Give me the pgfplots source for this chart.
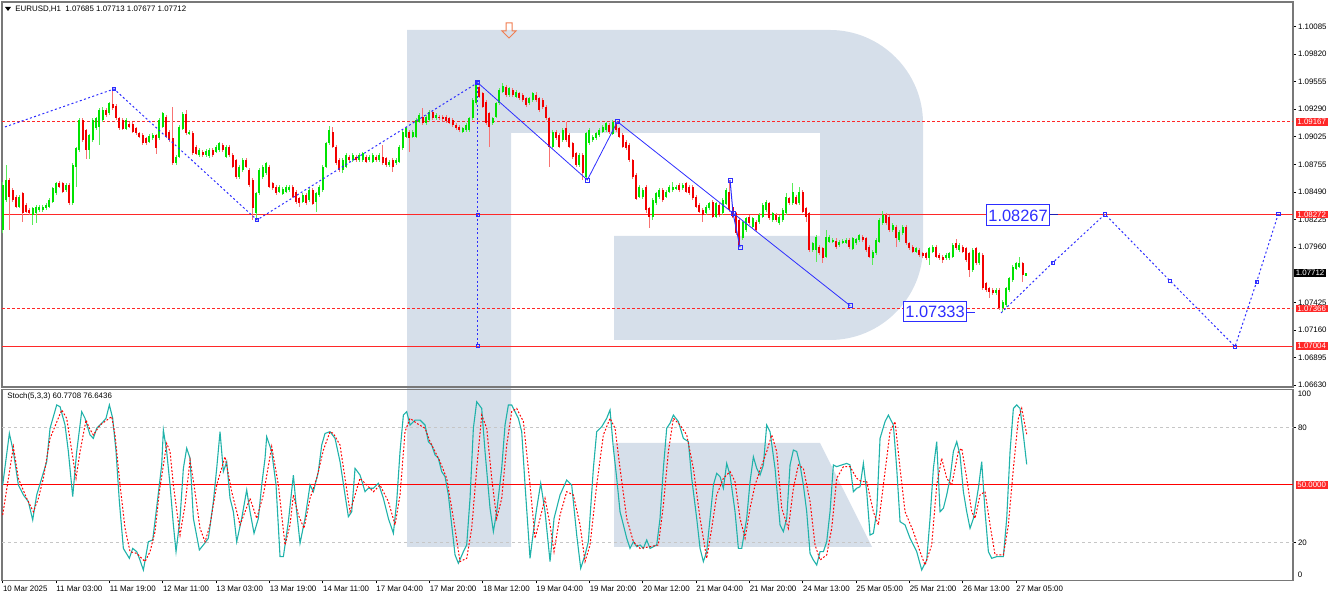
\documentclass[border=0pt]{standalone}
\usepackage{fontspec}
\setmainfont{Liberation Sans}
\usepackage{pgfplots}
\usepackage{pgfplotstable}
\pgfplotsset{compat=1.18}
\definecolor{upc}{RGB}{0,226,0}
\definecolor{dnc}{RGB}{242,0,0}
\definecolor{wm}{RGB}{214,223,234}
\definecolor{kline}{RGB}{32,178,170}
\definecolor{wave}{RGB}{45,45,255}
\definecolor{axgray}{RGB}{120,120,120}
\definecolor{lvl}{RGB}{255,40,40}
\newcommand{\sm}{\fontsize{3.95}{4.7}\selectfont}
\newcommand{\bg}{\fontsize{8.2}{9}\selectfont}

\pgfplotstableread{
o h l c
1.08124 1.08590 1.08092 1.08558
1.08413 1.08751 1.08397 1.08606
1.08606 1.08622 1.08124 1.08446
1.08510 1.08526 1.08397 1.08413
1.08446 1.08462 1.08333 1.08349
1.08349 1.08462 1.08333 1.08446
1.08478 1.08494 1.08204 1.08285
1.08365 1.08381 1.08285 1.08301
1.08317 1.08333 1.08269 1.08285
1.08269 1.08349 1.08172 1.08333
1.08285 1.08365 1.08188 1.08349
1.08317 1.08365 1.08301 1.08349
1.08317 1.08365 1.08301 1.08349
1.08333 1.08381 1.08317 1.08365
1.08349 1.08429 1.08333 1.08413
1.08397 1.08542 1.08381 1.08526
1.08478 1.08590 1.08462 1.08574
1.08581 1.08597 1.08526 1.08542
1.08574 1.08590 1.08478 1.08494
1.08510 1.08574 1.08494 1.08558
1.08558 1.08574 1.08365 1.08381
1.08381 1.08767 1.08365 1.08751
1.08735 1.08928 1.08542 1.08912
1.08896 1.09201 1.08879 1.09185
1.09185 1.09201 1.08976 1.08992
1.09088 1.09104 1.08815 1.08896
1.08896 1.09056 1.08815 1.09040
1.08992 1.09201 1.08976 1.09185
1.09104 1.09217 1.09088 1.09201
1.09121 1.09297 1.08944 1.09281
1.09185 1.09313 1.09169 1.09281
1.09281 1.09297 1.09217 1.09233
1.09249 1.09362 1.09233 1.09346
1.09339 1.09481 1.09281 1.09297
1.09320 1.09336 1.09185 1.09201
1.09201 1.09217 1.09088 1.09104
1.09185 1.09201 1.09088 1.09104
1.09104 1.09201 1.09088 1.09185
1.09146 1.09162 1.09104 1.09121
1.09146 1.09162 1.09056 1.09072
1.09104 1.09121 1.09040 1.09056
1.09056 1.09072 1.09008 1.09024
1.09040 1.09056 1.08944 1.08960
1.09008 1.09024 1.08944 1.08960
1.08976 1.09047 1.08960 1.09031
1.09008 1.09056 1.08992 1.09040
1.09040 1.09056 1.08863 1.08912
1.09008 1.09201 1.08992 1.09185
1.09121 1.09265 1.09104 1.09249
1.09217 1.09233 1.09008 1.09024
1.09072 1.09088 1.08976 1.08992
1.09008 1.09313 1.08751 1.08767
1.08767 1.08847 1.08751 1.08831
1.08831 1.09137 1.08815 1.09121
1.09104 1.09259 1.09088 1.09243
1.09243 1.09281 1.09040 1.09056
1.09056 1.09088 1.09040 1.09072
1.09063 1.09079 1.08847 1.08863
1.08928 1.08944 1.08847 1.08863
1.08847 1.08912 1.08831 1.08896
1.08879 1.08896 1.08831 1.08847
1.08847 1.08905 1.08831 1.08889
1.08838 1.08912 1.08822 1.08896
1.08896 1.08912 1.08831 1.08847
1.08879 1.08944 1.08863 1.08928
1.08896 1.08976 1.08879 1.08960
1.08944 1.08960 1.08879 1.08896
1.08831 1.08944 1.08815 1.08928
1.08928 1.08944 1.08831 1.08847
1.08847 1.08863 1.08719 1.08735
1.08799 1.08815 1.08622 1.08638
1.08638 1.08751 1.08622 1.08735
1.08703 1.08815 1.08687 1.08799
1.08799 1.08815 1.08719 1.08735
1.08703 1.08719 1.08542 1.08558
1.08606 1.08622 1.08221 1.08333
1.08285 1.08494 1.08221 1.08478
1.08478 1.08719 1.08462 1.08703
1.08638 1.08751 1.08622 1.08735
1.08671 1.08783 1.08654 1.08767
1.08735 1.08751 1.08526 1.08542
1.08574 1.08590 1.08510 1.08526
1.08542 1.08558 1.08462 1.08478
1.08494 1.08558 1.08478 1.08542
1.08478 1.08542 1.08462 1.08526
1.08494 1.08558 1.08478 1.08542
1.08510 1.08558 1.08494 1.08542
1.08542 1.08558 1.08429 1.08446
1.08494 1.08510 1.08381 1.08397
1.08429 1.08446 1.08349 1.08381
1.08397 1.08478 1.08381 1.08462
1.08462 1.08478 1.08365 1.08381
1.08413 1.08526 1.08397 1.08510
1.08510 1.08526 1.08365 1.08381
1.08397 1.08494 1.08301 1.08478
1.08462 1.08558 1.08446 1.08542
1.08510 1.08751 1.08494 1.08735
1.08735 1.08976 1.08719 1.08960
1.08960 1.09127 1.08944 1.09088
1.09072 1.09121 1.08912 1.08928
1.08928 1.08944 1.08751 1.08767
1.08799 1.08815 1.08687 1.08703
1.08703 1.08815 1.08671 1.08799
1.08735 1.08863 1.08719 1.08847
1.08831 1.08847 1.08783 1.08799
1.08799 1.08863 1.08783 1.08847
1.08831 1.08847 1.08783 1.08799
1.08799 1.08863 1.08783 1.08847
1.08799 1.08879 1.08783 1.08863
1.08831 1.08847 1.08767 1.08783
1.08799 1.08847 1.08783 1.08831
1.08783 1.08863 1.08767 1.08847
1.08831 1.08847 1.08783 1.08799
1.08799 1.08863 1.08783 1.08847
1.08831 1.08944 1.08751 1.08767
1.08815 1.08831 1.08735 1.08751
1.08751 1.08799 1.08735 1.08783
1.08799 1.08815 1.08687 1.08735
1.08767 1.08815 1.08751 1.08799
1.08783 1.08944 1.08767 1.08928
1.08912 1.09088 1.08896 1.09072
1.09024 1.09121 1.09008 1.09104
1.09072 1.09088 1.08879 1.09008
1.09024 1.09088 1.09008 1.09072
1.09024 1.09201 1.09008 1.09185
1.09169 1.09249 1.09153 1.09233
1.09217 1.09297 1.09137 1.09153
1.09153 1.09233 1.09137 1.09217
1.09185 1.09281 1.09169 1.09265
1.09265 1.09281 1.09185 1.09201
1.09201 1.09249 1.09185 1.09233
1.09217 1.09233 1.09185 1.09201
1.09217 1.09233 1.09175 1.09191
1.09217 1.09233 1.09162 1.09178
1.09201 1.09217 1.09143 1.09159
1.09185 1.09201 1.09121 1.09137
1.09137 1.09153 1.09088 1.09104
1.09121 1.09137 1.09072 1.09088
1.09072 1.09121 1.09056 1.09104
1.09088 1.09153 1.09072 1.09137
1.09088 1.09217 1.09072 1.09201
1.09201 1.09394 1.09185 1.09378
1.09346 1.09554 1.09329 1.09522
1.09506 1.09522 1.09394 1.09410
1.09442 1.09458 1.09297 1.09313
1.09362 1.09378 1.09137 1.09153
1.09249 1.09265 1.08928 1.09121
1.09153 1.09217 1.09137 1.09201
1.09217 1.09362 1.09201 1.09346
1.09346 1.09490 1.09329 1.09474
1.09458 1.09538 1.09442 1.09512
1.09506 1.09522 1.09410 1.09426
1.09426 1.09506 1.09410 1.09490
1.09474 1.09490 1.09410 1.09426
1.09410 1.09474 1.09394 1.09458
1.09442 1.09458 1.09378 1.09394
1.09426 1.09442 1.09362 1.09378
1.09394 1.09410 1.09313 1.09329
1.09346 1.09410 1.09329 1.09394
1.09378 1.09458 1.09362 1.09442
1.09426 1.09458 1.09362 1.09378
1.09394 1.09410 1.09265 1.09281
1.09378 1.09394 1.09297 1.09313
1.09313 1.09329 1.09185 1.09201
1.09201 1.09217 1.08735 1.08928
1.08928 1.09088 1.08912 1.09072
1.09072 1.09088 1.08992 1.09008
1.09040 1.09056 1.08912 1.08928
1.08992 1.09104 1.08976 1.09088
1.09104 1.09169 1.08976 1.08992
1.09040 1.09056 1.08912 1.08928
1.08960 1.08976 1.08815 1.08831
1.08863 1.08879 1.08735 1.08751
1.08751 1.08863 1.08735 1.08847
1.08847 1.08863 1.08606 1.08671
1.08638 1.09072 1.08622 1.09056
1.08960 1.09104 1.08944 1.09088
1.08992 1.09040 1.08976 1.09024
1.09008 1.09072 1.08992 1.09056
1.09040 1.09104 1.09024 1.09088
1.09072 1.09137 1.09056 1.09121
1.09088 1.09169 1.09072 1.09153
1.09137 1.09153 1.09056 1.09072
1.09056 1.09185 1.09040 1.09169
1.09153 1.09169 1.09072 1.09088
1.09104 1.09121 1.09008 1.09024
1.09040 1.09056 1.08912 1.08928
1.08976 1.08992 1.08896 1.08912
1.08944 1.08960 1.08783 1.08799
1.08799 1.08815 1.08622 1.08638
1.08654 1.08671 1.08413 1.08429
1.08446 1.08558 1.08429 1.08542
1.08446 1.08526 1.08429 1.08510
1.08542 1.08558 1.08285 1.08317
1.08333 1.08349 1.08140 1.08253
1.08253 1.08429 1.08221 1.08413
1.08381 1.08494 1.08365 1.08478
1.08446 1.08526 1.08429 1.08510
1.08510 1.08526 1.08397 1.08413
1.08446 1.08510 1.08429 1.08494
1.08494 1.08558 1.08478 1.08542
1.08510 1.08590 1.08494 1.08542
1.08526 1.08558 1.08510 1.08542
1.08558 1.08574 1.08494 1.08510
1.08526 1.08574 1.08510 1.08558
1.08574 1.08590 1.08478 1.08494
1.08542 1.08558 1.08462 1.08478
1.08542 1.08558 1.08413 1.08429
1.08446 1.08462 1.08333 1.08349
1.08365 1.08381 1.08285 1.08301
1.08317 1.08333 1.08204 1.08269
1.08285 1.08365 1.08269 1.08349
1.08333 1.08397 1.08317 1.08381
1.08397 1.08413 1.08237 1.08253
1.08253 1.08397 1.08237 1.08381
1.08365 1.08381 1.08253 1.08269
1.08285 1.08429 1.08269 1.08413
1.08381 1.08526 1.08365 1.08510
1.08494 1.08606 1.08301 1.08317
1.08349 1.08365 1.08237 1.08253
1.08285 1.08301 1.08076 1.08092
1.08221 1.08237 1.07957 1.07979
1.08044 1.08221 1.08028 1.08204
1.08124 1.08253 1.08108 1.08237
1.08253 1.08269 1.08172 1.08188
1.08156 1.08253 1.08140 1.08237
1.08204 1.08221 1.08108 1.08124
1.08204 1.08285 1.08188 1.08269
1.08253 1.08381 1.08237 1.08365
1.08317 1.08413 1.08301 1.08397
1.08381 1.08397 1.08221 1.08237
1.08221 1.08301 1.08204 1.08285
1.08269 1.08285 1.08204 1.08221
1.08188 1.08269 1.08172 1.08253
1.08221 1.08333 1.08204 1.08317
1.08285 1.08478 1.08269 1.08446
1.08429 1.08446 1.08365 1.08381
1.08381 1.08581 1.08365 1.08494
1.08446 1.08462 1.08365 1.08381
1.08381 1.08542 1.08365 1.08494
1.08494 1.08510 1.08285 1.08301
1.08333 1.08349 1.08204 1.08253
1.08285 1.08301 1.07915 1.07931
1.07931 1.08012 1.07915 1.07996
1.07931 1.08076 1.07819 1.08060
1.07963 1.07979 1.07883 1.07899
1.07947 1.07963 1.07803 1.07851
1.07867 1.08124 1.07851 1.08060
1.08012 1.08076 1.07996 1.08060
1.08012 1.08044 1.07996 1.08028
1.08021 1.08044 1.07947 1.07963
1.07979 1.08028 1.07963 1.08012
1.08002 1.08037 1.07986 1.08021
1.08002 1.08044 1.07986 1.08028
1.08028 1.08044 1.07947 1.07963
1.07947 1.08060 1.07931 1.08044
1.07996 1.08050 1.07979 1.08034
1.08028 1.08092 1.08012 1.08076
1.08060 1.08076 1.08012 1.08028
1.08044 1.08060 1.07915 1.07931
1.07963 1.07979 1.07851 1.07867
1.07851 1.07931 1.07787 1.07915
1.07899 1.08044 1.07883 1.08028
1.08012 1.08237 1.07996 1.08221
1.08188 1.08307 1.08172 1.08269
1.08269 1.08285 1.08172 1.08188
1.08253 1.08269 1.08108 1.08124
1.08124 1.08188 1.08108 1.08172
1.08156 1.08172 1.07963 1.08044
1.08028 1.08124 1.08012 1.08108
1.08092 1.08172 1.08076 1.08156
1.08156 1.08172 1.07979 1.07996
1.07996 1.08012 1.07931 1.07947
1.07963 1.07979 1.07899 1.07915
1.07915 1.07963 1.07899 1.07947
1.07931 1.07947 1.07867 1.07883
1.07899 1.07915 1.07857 1.07873
1.07899 1.07915 1.07835 1.07851
1.07851 1.07963 1.07787 1.07947
1.07915 1.07979 1.07899 1.07963
1.07963 1.07979 1.07851 1.07867
1.07883 1.07899 1.07835 1.07851
1.07867 1.07883 1.07803 1.07835
1.07851 1.07899 1.07835 1.07883
1.07851 1.07915 1.07835 1.07899
1.07867 1.07995 1.07851 1.07979
1.07996 1.08034 1.07931 1.07947
1.07931 1.07996 1.07915 1.07979
1.07963 1.07979 1.07899 1.07915
1.07947 1.07963 1.07819 1.07835
1.07899 1.07915 1.07674 1.07738
1.07738 1.07947 1.07722 1.07931
1.07947 1.07963 1.07787 1.07803
1.07803 1.07915 1.07787 1.07899
1.07883 1.07899 1.07545 1.07561
1.07610 1.07626 1.07529 1.07545
1.07561 1.07578 1.07465 1.07529
1.07545 1.07561 1.07497 1.07513
1.07513 1.07561 1.07497 1.07545
1.07545 1.07561 1.07353 1.07369
1.07369 1.07449 1.07337 1.07433
1.07401 1.07578 1.07385 1.07561
1.07545 1.07674 1.07529 1.07658
1.07642 1.07787 1.07626 1.07771
1.07754 1.07819 1.07738 1.07803
1.07771 1.07867 1.07754 1.07803
1.07803 1.07819 1.07626 1.07690
1.07685 1.07713 1.07677 1.07712
}\candles

\begin{document}
\begin{tikzpicture}[px/.style={x=0.5pt,y=-0.5pt,shift={(0pt,299pt)}}]
\useasboundingbox (0pt,0pt) rectangle (666pt,299pt);
% watermark logo
\begin{scope}[px]
\fill[wm] (407,30) -- (830,30) .. controls (881,30) and (923,72) .. (923,123) -- (923,247) .. controls (923,298) and (881,340) .. (830,340) -- (614,340) -- (614,236) -- (820,236) -- (820,133) -- (511,133) -- (511,547) -- (407,547) -- cycle;
\fill[wm] (614,443) -- (820,443) -- (872,547) -- (614,547) -- cycle;
\end{scope}

\begin{axis}[
  at={(1pt,105.5pt)}, anchor=south west, scale only axis,
  width=645.5pt, height=192.5pt,
  xmin=-0.21, xmax=387.09, ymin=1.06610, ymax=1.10323,
  axis line style={draw=axgray, line width=0.7pt},
  xtick=\empty, scaled y ticks=false,
  ytick pos=right, yticklabel pos=right,
  ytick={1.10085,1.09820,1.09555,1.09290,1.09025,1.08755,1.08490,1.08225,1.07960,1.07695,1.07425,1.07160,1.06895,1.06630},
  yticklabels={1.10085,1.09820,1.09555,1.09290,1.09025,1.08755,1.08490,1.08225,1.07960,1.07695,1.07425,1.07160,1.06895,1.06630},
  tick align=outside, major tick length=1.5pt,
  tick style={black, line width=0.4pt},
  yticklabel style={font=\sm, inner sep=0pt, anchor=west, xshift=0.8pt},
  clip=false,
]
% level lines
\addplot[lvl, line width=0.45pt, dash pattern=on 1.5pt off 1pt] coordinates {(-0.21,1.09167) (387.09,1.09167)};
\addplot[lvl, line width=0.6pt] coordinates {(-0.21,1.08272) (387.09,1.08272)};
\addplot[lvl, line width=0.45pt, dash pattern=on 1.5pt off 1pt] coordinates {(-0.21,1.07366) (387.09,1.07366)};
\addplot[lvl, line width=0.6pt] coordinates {(-0.21,1.07004) (387.09,1.07004)};
% candles: wicks and bodies
\addplot[forget plot, draw=none, mark=none, restrict expr to domain={\thisrow{c}-\thisrow{o}}{0:1},
  error bars/.cd, y dir=both, y explicit, error mark=none, error bar style={draw=upc!65!white, line width=0.45pt}]
  table[x expr=\lineno, y expr={(\thisrow{h}+\thisrow{l})/2}, y error expr={(\thisrow{h}-\thisrow{l})/2}] {\candles};
\addplot[forget plot, draw=none, mark=none, restrict expr to domain={\thisrow{c}-\thisrow{o}}{-1:-0.000001},
  error bars/.cd, y dir=both, y explicit, error mark=none, error bar style={draw=dnc!55!white, line width=0.45pt}]
  table[x expr=\lineno, y expr={(\thisrow{h}+\thisrow{l})/2}, y error expr={(\thisrow{h}-\thisrow{l})/2}] {\candles};
\addplot[forget plot, draw=none, mark=none, restrict expr to domain={\thisrow{c}-\thisrow{o}}{0:1},
  error bars/.cd, y dir=both, y explicit, error mark=none, error bar style={draw=upc, line width=1.1pt}]
  table[x expr=\lineno, y expr={(\thisrow{o}+\thisrow{c})/2}, y error expr={max(abs(\thisrow{c}-\thisrow{o})/2,0.00002)}] {\candles};
\addplot[forget plot, draw=none, mark=none, restrict expr to domain={\thisrow{c}-\thisrow{o}}{-1:-0.000001},
  error bars/.cd, y dir=both, y explicit, error mark=none, error bar style={draw=dnc, line width=1.1pt}]
  table[x expr=\lineno, y expr={(\thisrow{o}+\thisrow{c})/2}, y error expr={max(abs(\thisrow{c}-\thisrow{o})/2,0.00002)}] {\candles};
% wave analysis
\addplot[wave, line width=0.5pt, dash pattern=on 1pt off 1.2pt, mark=square, mark size=0.8pt, mark options={solid, line width=0.3pt}, mark indices={2,3,4}]
  coordinates {(0.69,1.09118) (33.4,1.09484) (76.3,1.08221) (142.5,1.09545)};
\addplot[wave, line width=0.5pt, dash pattern=on 1pt off 1.2pt, mark=square, mark size=0.8pt, mark options={solid, line width=0.3pt}]
  coordinates {(142.5,1.09545) (142.5,1.08272) (142.5,1.07004)};
\addplot[wave, line width=0.4pt, mark=square, mark size=1pt, mark options={line width=0.35pt}]
  coordinates {(142.5,1.09545) (175.4,1.08607) (184.4,1.09169) (254.2,1.07395)};
\addplot[wave, line width=0.5pt, mark=square, mark size=1pt, mark options={line width=0.35pt}]
  coordinates {(218.2,1.08607) (219.1,1.08286) (221.2,1.07958)};
\addplot[wave, line width=0.5pt, dash pattern=on 1pt off 1.2pt, mark=square, mark size=0.8pt, mark options={solid, line width=0.3pt}, mark indices={2,3,4,5,6,7}]
  coordinates {(299.5,1.07324) (315,1.07809) (330.7,1.08276) (350.2,1.07633) (369.7,1.07) (376.2,1.07626) (382.7,1.08282)};
% target labels
\draw[wave!70!black, line width=0.5pt] (axis cs:314.0,1.08278) -- (axis cs:316.6,1.08278);
\draw[wave, line width=0.5pt] (axis cs:289.0,1.07333) -- (axis cs:291.7,1.07333);
\node[draw=wave, line width=0.5pt, fill=white, text=wave, font=\bg, inner xsep=0.8pt, inner ysep=0pt, minimum height=10.5pt] at (axis cs:304.6,1.08264) {1.08267};
\node[draw=wave, line width=0.5pt, fill=white, text=wave, font=\bg, inner xsep=0.8pt, inner ysep=0pt, minimum height=10pt] at (axis cs:279.7,1.07336) {1.07333};
\coordinate (q1) at (axis cs:387.09,1.09167);
\coordinate (q2) at (axis cs:387.09,1.08272);
\coordinate (q3) at (axis cs:387.09,1.07712);
\coordinate (q4) at (axis cs:387.09,1.07366);
\coordinate (q5) at (axis cs:387.09,1.07004);
\end{axis}

\begin{axis}[
  at={(1pt,8.75pt)}, anchor=south west, scale only axis,
  width=645.5pt, height=95.5pt,
  xmin=-0.21, xmax=387.09, ymin=0, ymax=100,
  axis line style={draw=axgray, line width=0.7pt},
  xtick={0,16,...,304},
  xticklabels={10 Mar 2025,11 Mar 03:00,11 Mar 19:00,12 Mar 11:00,13 Mar 03:00,13 Mar 19:00,14 Mar 11:00,17 Mar 04:00,17 Mar 20:00,18 Mar 12:00,19 Mar 04:00,19 Mar 20:00,20 Mar 12:00,21 Mar 04:00,21 Mar 20:00,24 Mar 13:00,25 Mar 05:00,25 Mar 21:00,26 Mar 13:00,27 Mar 05:00},
  xtick pos=bottom,
  ytick={20,80}, yticklabels={20,80},
  ytick pos=right, yticklabel pos=right,
  tick align=outside, major tick length=1.5pt,
  tick style={black, line width=0.4pt},
  xticklabel style={font=\sm, inner sep=0pt, anchor=west, yshift=-2.4pt},
  yticklabel style={font=\sm, inner sep=0pt, anchor=west, xshift=0.8pt},
  clip=false,
]
\addplot[gray!45, line width=0.4pt, dash pattern=on 1.5pt off 1.5pt] coordinates {(-0.21,80) (387.09,80)};
\addplot[gray!45, line width=0.4pt, dash pattern=on 1.5pt off 1.5pt] coordinates {(-0.21,20) (387.09,20)};
\addplot[red, line width=0.5pt] coordinates {(-0.21,50) (387.09,50)};
% %K
\addplot[kline, line width=0.55pt] coordinates {
(0,50)(2,77.0)(3.2,67.5)(4.7,50)(6.2,44.8)(7.7,41.3)(9,31.7)(10.2,44.8)(11.7,53.5)(13.2,62.2)(14.2,79.7)(16.2,91.9)(17.2,91.0)(18.7,81.4)(19.7,67.5)(21,43.9)(22.2,67.5)(23.7,88.4)(24.7,84.9)(26.2,76.2)(27.2,74.4)(28.2,79.7)(29.7,82.3)(31,84.9)(32,91.9)(33,84.9)(34,67.5)(35,41.3)(36.2,16.8)(38,11.6)(39,16.8)(40.2,15.1)(41,11.6)(42.2,5.5)(43.7,20.3)(45,21.2)(46.4,41.3)(47.7,60.5)(48.2,78.8)(49.2,67.5)(50.2,50)(51.2,29.1)(52,15.1)(53.2,32.5)(54.2,58.7)(55.2,69.2)(56.2,64)(57.2,32.5)(59,16)(60.2,18.6)(61.7,22.1)(63.2,41.3)(64.2,58.7)(65.2,77.9)(66.2,57)(67.2,62.2)(68.2,43)(69.2,36)(70.2,20.3)(71.7,32.5)(73.2,47.4)(74.2,36)(75.4,24.7)(76.7,32.5)(77.7,50)(78.7,64)(79.2,75.3)(80.7,67.5)(82,50)(83.2,12.5)(84.2,12.5)(85.7,30.8)(87.2,55.2)(88.2,36)(89.2,19.5)(90.7,32.5)(92.2,50)(93.2,46.5)(94.7,57)(95.7,70.9)(96.7,77)(98.2,77.9)(99.7,74.4)(101.2,62.2)(102.7,44.8)(103.7,33.4)(104.7,36)(105.7,58.7)(107.2,55.2)(108.7,46.5)(109.7,48.3)(111.2,48.3)(112.7,50.9)(114.2,43)(115.7,32.5)(117.2,24.7)(118.2,41.3)(119.2,67.5)(120.2,86.6)(121.2,88.4)(122.2,81.4)(123.7,84)(125.2,84)(126.7,81.4)(127.7,72.7)(128.7,70.9)(129.7,65.7)(130.7,64)(131.7,57)(132.7,54.4)(133.7,44.8)(134.7,29.1)(135.7,13.4)(136.7,9)(138.2,15.1)(139.2,18.6)(140.2,43)(141.2,79.7)(142.2,93.6)(143.7,90.1)(144.7,67.5)(146.2,37.8)(147.2,25.6)(148.2,36)(149.7,58.7)(150.7,81.4)(151.7,91.9)(152.7,91.9)(153.7,88.4)(154.7,84.9)(155.7,77.9)(156.7,50)(158.2,11.6)(159.2,25.6)(160.2,37.8)(161.4,50.9)(162.7,36)(164.2,9.9)(165.4,32.5)(167.2,44.8)(169.2,52.6)(170.7,50)(172.2,23.8)(173.4,6.4)(174.7,13.4)(175.7,20.3)(177.2,58.7)(178.2,77.9)(179.7,80.5)(181.2,84.9)(182.2,89.3)(183.2,69.2)(184.2,53.5)(185.2,36)(186.2,29.1)(187.2,22.1)(188.2,16.8)(189.2,20.3)(190.2,17.7)(191.2,18.6)(192.2,16.8)(193.2,21.2)(194.2,16.8)(195.2,17.7)(196.2,18.6)(197.2,32.5)(198.2,58.7)(199.2,79.7)(200.2,82.3)(201.2,86.6)(202.7,83.2)(204.2,74.4)(205.7,72.7)(206.7,53.5)(208.2,32.5)(209.2,16.8)(210.2,9.9)(211.2,15.1)(212.2,32.5)(213.2,50)(214.2,56.1)(215.2,54.4)(216.2,48.3)(217.2,61.3)(218.2,55.2)(219.7,36)(220.7,16.8)(221.7,16.8)(223.2,32.5)(224.2,51.7)(225.2,64.8)(226.2,58.7)(227.2,55.2)(228.2,60.5)(229.2,81.4)(230.2,77.9)(231.7,58.7)(233.2,29.1)(234.2,25.6)(235.2,32.5)(236.2,60.5)(237.2,68.3)(238.2,67.5)(239.2,60.5)(240.2,50)(241.2,36)(242.2,14.2)(243.2,10.7)(244.2,8.1)(245.2,15.1)(246.2,15.1)(247.2,20.3)(248.2,36)(249.2,60.5)(250.2,59.6)(251.7,60.5)(253.2,61.3)(254.2,60.5)(255.2,46.5)(256.2,48.3)(257.2,49.1)(258.2,61.3)(259.2,46.5)(260.2,23.8)(261.2,24.7)(262.2,36)(263.2,74.4)(264.7,83.2)(265.7,86.6)(267.2,81.4)(268.2,58.7)(269.2,30.8)(270.7,29.1)(272.2,22.1)(274.2,15.1)(275.7,5.5)(277.2,10.7)(278.2,32.5)(279.2,58.7)(280.2,72.7)(281.2,36)(282.2,37.8)(283.2,44.8)(284.2,53.5)(285.2,67.5)(286.2,72.7)(287.2,65.7)(288.2,46.5)(289.2,36)(290.2,27.3)(291.2,32.5)(292.7,48.3)(293.7,62.2)(294.7,36)(295.7,15.1)(296.7,11.6)(298.2,12.5)(300.2,12.5)(301.2,32.5)(302.2,67.5)(303.2,90.1)(304.2,91.9)(305.2,90.1)(306.2,76.2)(307.2,60.8)};
% %D
\addplot[red, line width=0.5pt, dash pattern=on 0.9pt off 0.9pt] coordinates {
(0,34.3)(3.2,70.1)(4.7,53.5)(7.2,43)(9.2,36)(10.7,43)(12.2,53.5)(14.2,74.4)(17.7,89.3)(19.2,84.9)(22,53.5)(23.2,67.5)(25,84)(26,79.7)(27.2,76.2)(29.2,81.4)(32.7,85.8)(33.7,76.2)(35.2,50)(36.7,27.3)(38.2,15.1)(40.2,14.2)(42.7,9.9)(44.2,15.1)(45.7,25.6)(47,46.5)(49.2,71.8)(50.2,67.5)(51.2,50)(53.2,23.8)(54.7,39.5)(56.2,63.1)(57.4,50)(59.2,27.3)(60.7,20.3)(62.2,29.1)(64.2,50)(66.7,64.8)(68.7,46.5)(71.2,29.1)(72.7,36)(74.2,43)(76.2,32.5)(78.2,44.8)(80.7,70.1)(82.7,50)(84.7,18.6)(86.2,29.1)(87.2,44.8)(88.7,34.3)(90.4,27.3)(92.2,43)(94.2,53.5)(96.2,68.3)(98.2,77.9)(99.2,77)(101.2,70.9)(104.2,36)(105.7,44.8)(107.2,53.5)(109.2,50)(111.2,46.5)(113.2,50)(115.7,41.3)(117.7,29.1)(119.2,44.8)(120.7,77.9)(122.2,84.9)(124.2,82.3)(126.7,79.7)(128.2,72.7)(131.2,62.2)(133.2,53.5)(135.2,32.5)(137.2,9.9)(139.2,11.6)(140.7,27.3)(142.2,58.7)(143.7,86.6)(145.2,79.7)(146.7,53.5)(148.2,32.5)(149.7,43)(151.2,70.9)(152.7,88.4)(154.2,90.1)(156.2,83.2)(158.2,50)(159.7,22.1)(161.2,32.5)(162.7,43)(164.2,29.1)(165.4,15.1)(167.2,34.3)(169.2,46.5)(171.2,44.8)(173.2,29.1)(174.7,9.9)(176.2,18.6)(178.2,50)(180.2,76.2)(182.2,84.9)(183.7,79.7)(185.2,58.7)(187.2,32.5)(189.2,20.3)(191.2,16.8)(194.2,17.7)(196.7,18.6)(198.2,39.5)(199.7,67.5)(201.2,84.9)(203.2,81.4)(205.2,76.2)(207.2,58.7)(209.2,32.5)(211.2,11.6)(212.7,27.3)(214.2,44.8)(216.2,53.5)(218.2,57)(219.7,51.7)(221.2,32.5)(222.7,22.1)(224.2,37.8)(225.7,50)(227.2,57.8)(229.2,67.5)(230.7,76.2)(232.2,67.5)(233.7,37.8)(235.7,27.3)(237.2,48.3)(238.7,60.5)(240.2,58.7)(242.2,41.3)(243.7,18.6)(245.2,10.7)(247.2,13.4)(248.7,27.3)(250.2,53.5)(252.2,59.6)(254.2,59.6)(256.2,53.5)(257.7,51.7)(259.2,51.7)(261.2,36)(262.7,29.1)(264.2,50)(266.2,77.9)(267.7,83.2)(269.2,58.7)(270.7,36)(273.2,25.6)(275.2,15.1)(276.7,8.1)(278.7,18.6)(280.2,50)(281.7,64)(283.2,53.5)(284.7,50)(286.7,67.5)(287.7,69.2)(289.2,53.5)(290.7,36)(291.7,32.5)(293.2,44.8)(294.7,46.5)(296.2,29.1)(297.7,13.4)(300.2,13.4)(301.7,29.1)(303.2,58.7)(304.7,84.9)(305.7,90.1)(307.2,76.6)};
\coordinate (s50) at (axis cs:387.09,50);
\coordinate (s100) at (axis cs:387.09,97.6);
\coordinate (s0) at (axis cs:387.09,2.9);
\end{axis}

% right scale markers
\begin{scope}[every node/.style={font=\sm, anchor=west, inner xsep=0.8pt, inner ysep=0.2pt, minimum height=3.8pt}]
\node[fill=lvl, text=white] at ([xshift=1.2pt]q1) {1.09167};
\node[fill=lvl, text=white] at ([xshift=1.2pt]q2) {1.08272};
\node[fill=black, text=white] at ([xshift=0.4pt]q3) {1.07712};
\node[fill=lvl, text=white] at ([xshift=1.2pt]q4) {1.07366};
\node[fill=lvl, text=white] at ([xshift=1.2pt]q5) {1.07004};
\node[fill=lvl, text=white] at ([xshift=1.2pt]s50) {50.0000};
\node[inner xsep=0pt] at ([xshift=2.2pt]s100) {100};
\node[inner xsep=0pt] at ([xshift=2.2pt]s0) {0};
\end{scope}

% titles, arrow
\begin{scope}[px]
\fill (5,7) -- (11,7) -- (8,11) -- cycle;
\node[anchor=west, font=\sm, inner sep=0pt] at (15,9) {EURUSD,H1\ \ 1.07685 1.07713 1.07677 1.07712};
\node[anchor=west, font=\sm, inner sep=0pt] at (7,396) {Stoch(5,3,3) 60.7708 76.6436};
\draw[color={rgb,255:red,240;green,125;blue,80}, line width=0.5pt, line join=miter]
  (506,23) -- (512,23) -- (512,31) -- (516,31) -- (509,38) -- (502,31) -- (506,31) -- cycle;
\end{scope}
\end{tikzpicture}
\end{document}
